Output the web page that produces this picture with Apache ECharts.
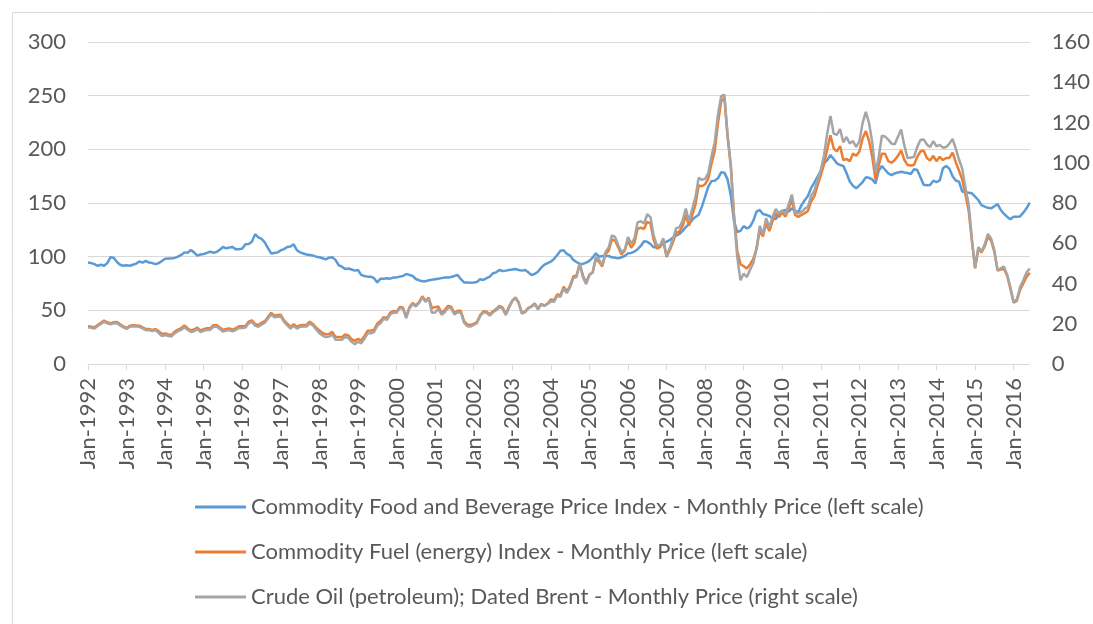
<!DOCTYPE html>
<html>
<head>
<meta charset="utf-8">
<script src="https://cdn.jsdelivr.net/npm/echarts@6/dist/echarts.min.js"></script>
<style>
html,body{margin:0;padding:0;background:#fff;}
#chart{width:1093px;height:624px;}
</style>
</head>
<body>
<div id="chart"></div>
<script>
// ---- data ----
const monthNames = ['Jan','Feb','Mar','Apr','May','Jun','Jul','Aug','Sep','Oct','Nov','Dec'];
const years = [1992,1993,1994,1995,1996,1997,1998,1999,2000,2001,2002,2003,2004,2005,2006,2007,2008,2009,2010,2011,2012,2013,2014,2015,2016];
const lastYearMonths = 6;

const seriesNames = [
  'Commodity Food and Beverage Price Index - Monthly Price (left scale)',
  'Commodity Fuel (energy) Index - Monthly Price (left scale)',
  'Crude Oil (petroleum); Dated Brent - Monthly Price (right scale)'
];

// Food and Beverage index (left scale)
const foodIndex = [
  94.5, 94, 93, 91.5, 92.5, 91.5, 94, 99.5, 99, 95, 92.5, 91.5,
  92, 91.5, 92.5, 93.5, 95.5, 94.5, 96, 94.5, 94, 93, 94, 96,
  98, 98.2, 98.4, 98.8, 100, 101.6, 104, 103.7, 106.2, 104, 101, 102,
  102.5, 103.5, 104.7, 103.7, 104.3, 106.5, 109, 107.8, 108.5, 109, 106.8, 107,
  107.5, 111.5, 111.8, 114, 121, 118, 116.5, 113.4, 108, 103, 103.5, 104,
  106, 107, 109, 109.5, 111.5, 106, 104, 103, 102, 101.5, 101, 100,
  99.5, 98.5, 97.5, 99, 99.4, 97, 92, 90.7, 88.5, 89, 88, 87,
  87.6, 83, 82, 81.4, 81.4, 80, 76, 79.5, 79.5, 79.8, 79.5, 80.5,
  80.7, 81.4, 82, 83.9, 83, 82, 79.2, 78, 77, 77, 78, 78.5,
  79, 79.5, 80, 80.5, 80.5, 81, 82, 83, 79, 76, 76, 75.8,
  76, 76.4, 78.9, 78.3, 80, 81.5, 84.5, 85.4, 87.6, 86.6, 87, 87.6,
  88, 88.5, 87.5, 87, 87.6, 85.4, 82.9, 84, 86, 89.8, 92.5, 94,
  95.3, 98, 101.5, 105.5, 106, 102.5, 101, 97, 95, 93.5, 93.2, 94.5,
  96, 99, 103.1, 100, 100.6, 100.6, 100.6, 99.4, 99, 98.4, 99.5, 100.6,
  103.1, 103.5, 104.7, 107, 110, 114.3, 114, 111.8, 108.7, 109, 110, 112.4,
  114, 115.5, 118, 119.5, 121.1, 124, 127.5, 130.4, 134.2, 137, 139, 146.6,
  155.9, 165.2, 170.5, 170.8, 173, 178.6, 178.3, 172, 157, 133, 123, 124,
  128.5, 126.2, 128, 133.5, 142, 143.5, 139.8, 139, 137.9, 135.5, 135, 140.4,
  142.5, 143.5, 142, 145, 143, 141.6, 148, 152.5, 156.5, 164, 169, 174.5,
  180, 187, 190, 194.7, 191, 187, 185.4, 184.6, 178, 170, 166, 163.7,
  166.5, 169.5, 173.9, 173.5, 172, 168.3, 180, 184.5, 181, 177.5, 176, 177.5,
  178.5, 179.2, 178.5, 178, 177, 181.4, 180.7, 174, 167, 166.5, 166.8, 170.8,
  169.5, 171, 182.3, 184.5, 182, 175, 171, 169.9, 160.6, 160, 159.6, 159,
  156, 152.8, 148, 146.6, 145.5, 145, 147, 149, 143.5, 139.8, 137, 134.8,
  137.3, 137.3, 137.5, 141, 145, 150.3
];

// Fuel (energy) index (left scale)
const fuelIndex = [
  35.1, 34.8, 34.0, 36.4, 38.3, 40.4, 38.9, 37.9, 38.9, 39.1, 37.0, 35.1,
  33.6, 35.7, 36.1, 35.9, 35.7, 34.2, 32.5, 32.7, 31.6, 32.7, 30.5, 28.0,
  28.5, 27.6, 27.2, 30.2, 32.1, 33.4, 35.8, 33.4, 31.3, 32.1, 33.9, 31.3,
  32.4, 33.4, 33.2, 36.2, 36.4, 34.1, 31.7, 32.6, 33.2, 31.9, 33.4, 35.1,
  35.1, 35.4, 39.4, 40.7, 37.3, 36.2, 38.3, 39.9, 43.9, 47.6, 45.0, 45.6,
  45.8, 40.7, 37.5, 34.5, 37.1, 34.5, 36.2, 36.4, 36.4, 39.4, 37.3, 33.8,
  31.2, 28.9, 27.6, 28.0, 29.9, 25.2, 25.2, 25.0, 27.6, 26.7, 23.1, 21.5,
  23.5, 22.0, 25.9, 31.0, 31.2, 31.8, 37.6, 40.1, 43.7, 42.8, 47.6, 49.3,
  48.8, 53.1, 52.6, 43.8, 52.8, 56.9, 54.6, 57.6, 63.1, 58.9, 61.9, 52.0,
  53.0, 53.6, 47.9, 50.2, 54.2, 53.3, 47.6, 49.7, 49.5, 39.9, 36.8, 36.4,
  37.4, 39.1, 45.4, 49.2, 48.6, 46.2, 49.2, 51.1, 54.1, 52.6, 46.6, 53.5,
  59.0, 62.0, 57.3, 47.4, 48.9, 52.3, 53.8, 56.4, 51.3, 56.0, 54.5, 56.4,
  60.0, 59.4, 64.9, 64.1, 72.0, 67.5, 73.1, 81.6, 82.5, 93.4, 82.3, 75.9,
  83.1, 85.3, 97.6, 95.3, 90.9, 102.3, 105.6, 115.8, 115.1, 108.6, 102.1, 105.5,
  115.3, 108.3, 112.8, 126.0, 126.9, 125.9, 132.5, 130.9, 115.6, 107.4, 108.8, 114.2,
  99.7, 106.0, 113.4, 122.6, 123.3, 128.7, 138.8, 128.8, 138.6, 148.4, 166.4, 165.6,
  167.5, 172.8, 186.7, 198.6, 224.3, 244.6, 248.1, 211.6, 183.8, 138.5, 105.8, 93.0,
  91.0, 89.0, 93.0, 98.0, 107.4, 124.6, 118.8, 130.9, 123.9, 133.3, 140.4, 137.0,
  141.3, 137.3, 144.7, 152.9, 138.8, 137.0, 138.8, 140.6, 142.6, 151.6, 156.4, 166.4,
  176, 186, 200, 213, 201, 198, 203, 190, 191, 189, 196, 194,
  198, 210, 217, 208, 193, 172, 185, 196, 196, 189, 187.5, 190,
  194, 199, 190, 185.5, 185, 185.5, 193, 198, 199, 192, 189.5, 194,
  189, 193, 190, 192, 192, 197, 188, 180, 172, 158, 143, 115,
  89, 107, 104, 109.5, 118.5, 115, 104.5, 87, 88, 89, 82, 70,
  57, 59, 69, 75, 81, 85
];

// Dated Brent, USD per barrel (right scale)
const brentPrice = [
  18.2, 18.0, 17.6, 18.9, 19.9, 21.0, 20.2, 19.7, 20.2, 20.3, 19.2, 18.2,
  17.4, 18.5, 18.7, 18.6, 18.5, 17.7, 16.8, 16.9, 16.3, 16.9, 15.4, 13.9,
  14.4, 13.9, 13.7, 15.3, 16.3, 17.0, 18.3, 17.0, 15.9, 16.3, 17.3, 15.9,
  16.5, 17.0, 16.9, 18.5, 18.6, 17.4, 16.1, 16.6, 16.9, 16.2, 17.0, 17.9,
  17.9, 18.1, 20.2, 20.9, 19.1, 18.5, 19.6, 20.5, 22.6, 24.6, 23.2, 23.5,
  23.6, 20.9, 19.2, 17.6, 19.0, 17.6, 18.5, 18.6, 18.6, 20.2, 19.1, 17.2,
  15.3, 14.1, 13.4, 13.6, 14.6, 12.1, 12.1, 12.0, 13.4, 12.9, 11.0, 9.8,
  11.1, 10.3, 12.5, 15.2, 15.3, 15.9, 19.0, 20.3, 22.5, 22.0, 24.6, 25.5,
  25.5, 27.8, 27.5, 22.8, 27.6, 29.8, 28.6, 30.2, 33.1, 30.9, 32.5, 25.5,
  25.6, 27.5, 24.5, 25.7, 28.1, 27.6, 24.6, 25.7, 25.6, 20.5, 18.8, 18.6,
  19.4, 20.3, 23.7, 25.7, 25.4, 24.1, 25.7, 26.7, 28.3, 27.5, 24.3, 28.0,
  31.2, 32.8, 30.3, 25.0, 25.8, 27.6, 28.4, 29.8, 27.1, 29.6, 28.8, 29.8,
  31.2, 30.9, 33.8, 33.4, 37.6, 35.2, 38.2, 42.7, 43.2, 49.8, 43.1, 39.7,
  44.3, 45.5, 53.1, 51.9, 49.0, 55.6, 57.9, 63.9, 63.0, 59.0, 55.5, 56.8,
  63.1, 59.9, 62.3, 70.4, 70.9, 69.8, 74.4, 73.0, 63.8, 58.9, 59.1, 62.5,
  53.7, 57.6, 62.1, 67.5, 67.9, 71.3, 77.2, 70.8, 77.1, 82.9, 92.5, 91.5,
  92.0, 94.8, 103.3, 110.2, 123.9, 133.1, 133.9, 113.9, 99.1, 72.8, 53.2, 41.6,
  44.9, 43.2, 46.8, 50.2, 57.3, 68.6, 64.4, 72.5, 67.7, 73.2, 77.0, 74.7,
  76.4, 74.3, 79.3, 84.2, 75.6, 74.7, 75.6, 77.1, 78.2, 83.5, 86.1, 91.4,
  96.5, 103.7, 114.6, 123.3, 114.5, 113.9, 116.7, 110.2, 112.8, 109.6, 110.8, 107.9,
  110.6, 119.7, 125.3, 119.8, 110.3, 95.2, 102.6, 113.4, 113.0, 111.5, 109.5, 109.2,
  112.9, 116.5, 108.5, 102.3, 102.6, 102.9, 107.9, 111.3, 111.6, 109.1, 107.8, 110.8,
  108.1, 108.9, 107.5, 107.8, 109.5, 111.8, 107.0, 101.6, 97.1, 87.4, 79.4, 62.3,
  47.8, 58.1, 55.9, 59.5, 64.6, 62.3, 56.6, 46.5, 47.6, 48.4, 44.3, 38.0,
  30.7, 32.2, 38.2, 41.6, 45.5, 47.5
];

// Category labels like "Jan-1992"
const categories = [];
years.forEach(function (y, yi) {
  const n = (yi === years.length - 1) ? lastYearMonths : 12;
  for (let m = 0; m < n; m++) categories.push(monthNames[m] + '-' + y);
});

// ---- chart ----
const FONT = 'Lato';
const TEXT = '#595959';
const GRID = '#d9d9d9';
const colors = ['#5B9BD5', '#ED7D31', '#A5A5A5'];
const FS = 22;

const chart = echarts.init(document.getElementById('chart'), null, {renderer: 'canvas'});
chart.setOption({
  animation: false,
  backgroundColor: '#ffffff',
  textStyle: {fontFamily: FONT, color: TEXT},
  graphic: [{
    type: 'rect', silent: true, z: -1,
    shape: {x: 12.5, y: 12.5, width: 1200, height: 800},
    style: {fill: 'none', stroke: GRID, lineWidth: 1}
  }],
  grid: {left: 88, right: 62, top: 42, bottom: 260, containLabel: false},
  legend: {
    orient: 'vertical', left: 195, top: 496, padding: 0,
    icon: 'rect', itemWidth: 51, itemHeight: 3, itemGap: 23,
    data: seriesNames,
    textStyle: {fontFamily: FONT, fontSize: FS, lineHeight: 22, color: TEXT, padding: [0, 0, 0, 0]}
  },
  xAxis: {
    type: 'category', data: categories, boundaryGap: false,
    axisLine: {lineStyle: {color: GRID, width: 1}},
    axisTick: {interval: 11, length: 6, lineStyle: {color: GRID}},
    axisLabel: {interval: 11, rotate: 90, margin: 14, fontFamily: FONT, fontSize: FS, color: TEXT},
    splitLine: {show: false}
  },
  yAxis: [{
    type: 'value', min: 0, max: 300, interval: 50,
    axisLine: {show: false}, axisTick: {show: false},
    axisLabel: {margin: 22, fontFamily: FONT, fontSize: FS, color: TEXT},
    splitLine: {lineStyle: {color: GRID, width: 1}}
  }, {
    type: 'value', min: 0, max: 160, interval: 20, position: 'right',
    axisLine: {show: false}, axisTick: {show: false},
    axisLabel: {margin: 22, fontFamily: FONT, fontSize: FS, color: TEXT},
    splitLine: {show: false}
  }],
  series: [{
    name: seriesNames[0], type: 'line', data: foodIndex, yAxisIndex: 0,
    symbol: 'none', color: colors[0], lineStyle: {width: 2.5, color: colors[0]}
  }, {
    name: seriesNames[1], type: 'line', data: fuelIndex, yAxisIndex: 0,
    symbol: 'none', color: colors[1], lineStyle: {width: 2.5, color: colors[1]}
  }, {
    name: seriesNames[2], type: 'line', data: brentPrice, yAxisIndex: 1,
    symbol: 'none', color: colors[2], lineStyle: {width: 2.5, color: colors[2]}
  }]
});
</script>
</body>
</html>
